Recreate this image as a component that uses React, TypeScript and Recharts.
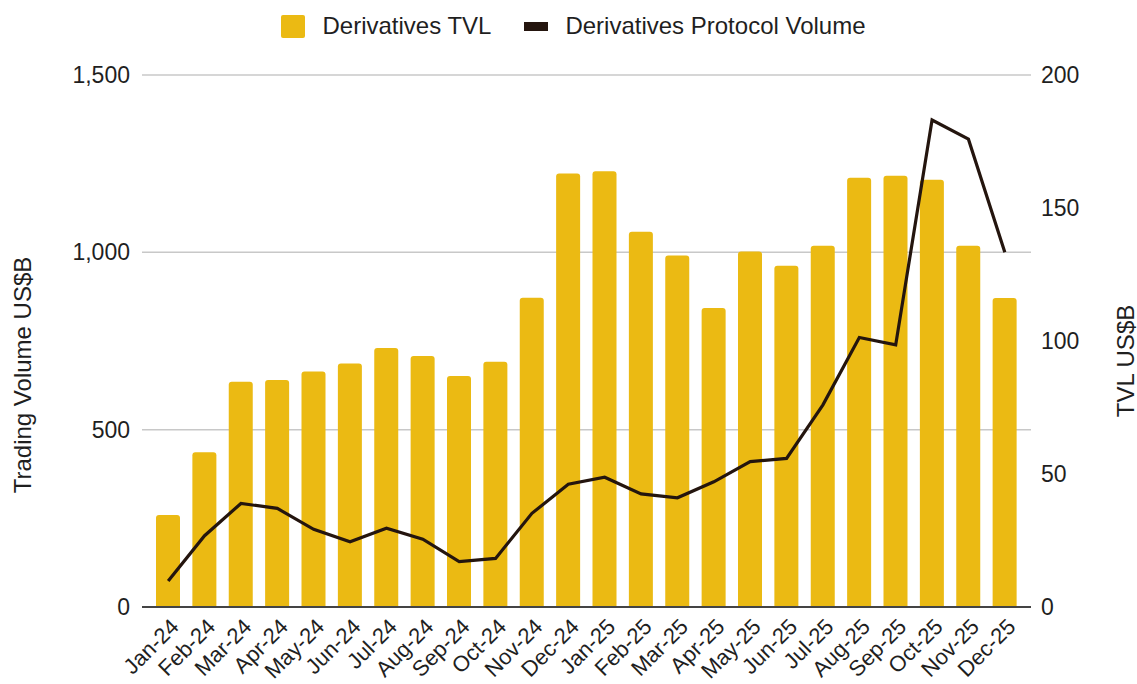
import React from "react";
import {
  ComposedChart,
  Bar,
  Line,
  XAxis,
  YAxis,
  CartesianGrid,
  Legend,
} from "recharts";

// Monthly derivatives data
const months = [
  "Jan-24", "Feb-24", "Mar-24", "Apr-24", "May-24", "Jun-24",
  "Jul-24", "Aug-24", "Sep-24", "Oct-24", "Nov-24", "Dec-24",
  "Jan-25", "Feb-25", "Mar-25", "Apr-25", "May-25", "Jun-25",
  "Jul-25", "Aug-25", "Sep-25", "Oct-25", "Nov-25", "Dec-25",
];

// TVL in US$B (right axis, bars)
const tvl = [
  34.6, 58.2, 84.7, 85.3, 88.5, 91.5, 97.4, 94.4, 86.8, 92.2, 116.3, 163.0,
  163.8, 141.1, 132.1, 112.4, 133.6, 128.3, 135.8, 161.4, 162.1, 160.6, 135.8, 116.2,
];

// Protocol trading volume in US$B (left axis, line)
const volume = [
  73, 201, 292, 278, 219, 184, 222, 191, 128, 137, 264, 346,
  366, 319, 308, 353, 410, 419, 570, 760, 739, 1373, 1319, 1000,
];

const leftTicks = [0, 500, 1000, 1500];
const rightTicks = [0, 50, 100, 150, 200];

const data = months.map((m, i) => ({ month: m, tvl: tvl[i], volume: volume[i] }));

const FONT = '"Liberation Sans", Arial, Helvetica, sans-serif';
const YELLOW = "#ebba13";
const DARK = "#24150e";
const TEXT = "#1f1f1f";

const XTick = ({ x, y, payload }: any) => {
  const tx = x + 12;
  const ty = y + 19;
  return (
    <text
      x={tx}
      y={ty}
      textAnchor="end"
      fontSize={22}
      fontFamily={FONT}
      fill={TEXT}
      transform={`rotate(-45, ${tx}, ${ty})`}
    >
      {payload.value}
    </text>
  );
};

const LegendBox = () => (
  <div
    style={{
      display: "flex",
      justifyContent: "center",
      alignItems: "center",
      fontFamily: FONT,
      fontSize: 24,
      color: TEXT,
      height: 52,
      paddingLeft: 10,
    }}
  >
    <span style={{ width: 24, height: 23, background: YELLOW, borderRadius: 2, marginRight: 17 }} />
    <span style={{ marginRight: 33 }}>Derivatives TVL</span>
    <span style={{ width: 24, height: 9, background: DARK, marginRight: 17 }} />
    <span>Derivatives Protocol Volume</span>
  </div>
);

const LeftTitle = ({ viewBox }: any) => {
  const cx = 22;
  const cy = viewBox.y + viewBox.height / 2 + 34;
  return (
    <text
      x={cx}
      y={cy}
      textAnchor="middle"
      dominantBaseline="central"
      fontSize={24}
      fontFamily={FONT}
      fill={TEXT}
      transform={`rotate(-90, ${cx}, ${cy})`}
    >
      Trading Volume US$B
    </text>
  );
};

const RightTitle = ({ viewBox }: any) => {
  const cx = viewBox.x + viewBox.width - 12;
  const cy = viewBox.y + viewBox.height / 2 + 20;
  return (
    <text
      x={cx}
      y={cy}
      textAnchor="middle"
      dominantBaseline="central"
      fontSize={24}
      fontFamily={FONT}
      fill={TEXT}
      transform={`rotate(-90, ${cx}, ${cy})`}
    >
      TVL US$B
    </text>
  );
};

export default function App() {
  return (
    <div style={{ position: "absolute", left: 0, top: 0, background: "#fff" }}>
      <ComposedChart
        width={1137}
        height={684}
        data={data}
        margin={{ top: 75, right: 0, bottom: 0, left: 0 }}
      >
        <CartesianGrid
          yAxisId="left"
          vertical={false}
          stroke="#c8c8c8"
          strokeWidth={1.5}
        />
        <XAxis
          dataKey="month"
          interval={0}
          height={77}
          padding={{ left: 8, right: 8 }}
          tickLine={false}
          tickSize={0}
          axisLine={{ stroke: "#444", strokeWidth: 2 }}
          tick={<XTick />}
        />
        <YAxis
          yAxisId="left"
          orientation="left"
          width={142}
          domain={[0, 1500]}
          ticks={leftTicks}
          axisLine={false}
          tickLine={false}
          tickSize={0}
          tickMargin={12}
          tickFormatter={(v: number) => v.toLocaleString("en-US")}
          tick={{ fontSize: 23, fontFamily: FONT, fill: TEXT }}
          label={<LeftTitle />}
        />
        <YAxis
          yAxisId="right"
          orientation="right"
          width={106}
          domain={[0, 200]}
          ticks={rightTicks}
          axisLine={false}
          tickLine={false}
          tickSize={0}
          tickMargin={10}
          tick={{ fontSize: 23, fontFamily: FONT, fill: TEXT }}
          label={<RightTitle />}
        />
        <Legend
          layout="vertical"
          align="center"
          verticalAlign="middle"
          wrapperStyle={{ top: 0, left: 0, width: 1137, height: 52 }}
          content={<LegendBox />}
        />
        <Bar
          yAxisId="right"
          dataKey="tvl"
          name="Derivatives TVL"
          fill={YELLOW}
          barSize={24}
          radius={[3, 3, 0, 0]}
          isAnimationActive={false}
        />
        <Line
          yAxisId="left"
          type="linear"
          dataKey="volume"
          name="Derivatives Protocol Volume"
          stroke={DARK}
          strokeWidth={3.2}
          dot={false}
          activeDot={false}
          isAnimationActive={false}
        />
      </ComposedChart>
    </div>
  );
}
